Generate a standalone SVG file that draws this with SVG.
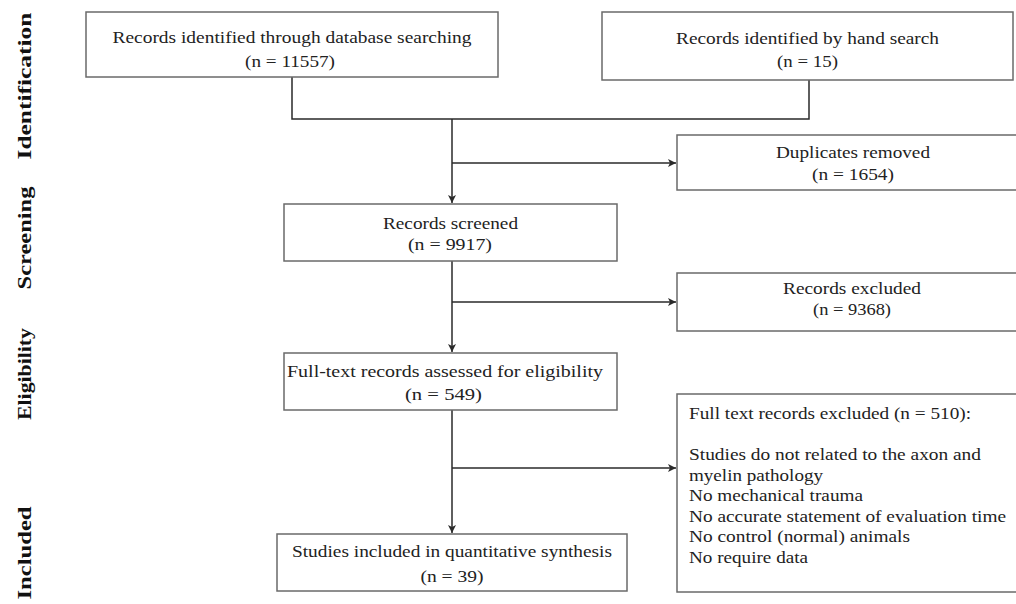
<svg xmlns="http://www.w3.org/2000/svg" width="1016" height="604" viewBox="0 0 1016 604">
<style>
.box{fill:#fff;stroke:#6a6a6a;stroke-width:1.5}
.t{font-family:"Liberation Serif","Times New Roman",serif;font-size:17px;fill:#222}
.c{text-anchor:middle}
.lab{font-family:"Liberation Serif","Times New Roman",serif;font-size:18px;font-weight:bold;fill:#111;text-anchor:middle}
.ln{fill:none;stroke:#2a2a2a;stroke-width:1.5}
</style>
<defs>
<marker id="ah" markerUnits="userSpaceOnUse" markerWidth="10" markerHeight="10" refX="8" refY="4" orient="auto">
<path d="M0,0 L8,4 L0,8 L2,4 z" fill="#2a2a2a"/>
</marker>
</defs>
<rect width="1016" height="604" fill="#fff"/>
<g id="phase-labels">
<text class="lab" transform="translate(31 86) rotate(-90)" textLength="147" lengthAdjust="spacingAndGlyphs">Identification</text>
<text class="lab" transform="translate(31 238) rotate(-90)" textLength="103" lengthAdjust="spacingAndGlyphs">Screening</text>
<text class="lab" transform="translate(31 374) rotate(-90)" textLength="92" lengthAdjust="spacingAndGlyphs">Eligibility</text>
<text class="lab" transform="translate(31 553) rotate(-90)" textLength="93" lengthAdjust="spacingAndGlyphs">Included</text>
</g>
<g id="connectors">
<polyline class="ln" points="292,77 292,119 809,119 809,80"/>
<line class="ln" x1="452" y1="119" x2="452" y2="203" marker-end="url(#ah)"/>
<line class="ln" x1="452" y1="163" x2="676" y2="163" marker-end="url(#ah)"/>
<line class="ln" x1="452" y1="261" x2="452" y2="352" marker-end="url(#ah)"/>
<line class="ln" x1="452" y1="302" x2="676" y2="302" marker-end="url(#ah)"/>
<line class="ln" x1="452" y1="410" x2="452" y2="533" marker-end="url(#ah)"/>
<line class="ln" x1="452" y1="468" x2="676" y2="468" marker-end="url(#ah)"/>
</g>
<g id="n-database">
<rect class="box" x="86" y="12" width="412" height="65"/>
<text class="t c" x="292" y="43" textLength="359" lengthAdjust="spacingAndGlyphs">Records identified through database searching</text>
<text class="t c" x="290" y="67" textLength="90" lengthAdjust="spacingAndGlyphs">(n = 11557)</text>
</g>
<g id="n-hand">
<rect class="box" x="602" y="12" width="411" height="68"/>
<text class="t c" x="807.5" y="44" textLength="263" lengthAdjust="spacingAndGlyphs">Records identified by hand search</text>
<text class="t c" x="807.5" y="67" textLength="61" lengthAdjust="spacingAndGlyphs">(n = 15)</text>
</g>
<g id="n-duplicates">
<rect class="box" x="677" y="135" width="352" height="55"/>
<text class="t c" x="853" y="158" textLength="154" lengthAdjust="spacingAndGlyphs">Duplicates removed</text>
<text class="t c" x="853" y="180" textLength="82" lengthAdjust="spacingAndGlyphs">(n = 1654)</text>
</g>
<g id="n-screened">
<rect class="box" x="284" y="204" width="333" height="57"/>
<text class="t c" x="450.5" y="229" textLength="135" lengthAdjust="spacingAndGlyphs">Records screened</text>
<text class="t c" x="450" y="250" textLength="84" lengthAdjust="spacingAndGlyphs">(n = 9917)</text>
</g>
<g id="n-excluded">
<rect class="box" x="677" y="273" width="352" height="58"/>
<text class="t c" x="852" y="294" textLength="138" lengthAdjust="spacingAndGlyphs">Records excluded</text>
<text class="t c" x="852" y="315" textLength="78" lengthAdjust="spacingAndGlyphs">(n = 9368)</text>
</g>
<g id="n-fulltext">
<rect class="box" x="284" y="353" width="333" height="57"/>
<text class="t c" x="445" y="377" textLength="316" lengthAdjust="spacingAndGlyphs">Full-text records assessed for eligibility</text>
<text class="t c" x="443.5" y="400" textLength="77" lengthAdjust="spacingAndGlyphs">(n = 549)</text>
</g>
<g id="n-ftexcluded">
<rect class="box" x="677" y="394" width="352" height="198"/>
<text class="t" x="689" y="419" textLength="282" lengthAdjust="spacingAndGlyphs">Full text records excluded (n = 510):</text>
<text class="t" x="689" y="460" textLength="292" lengthAdjust="spacingAndGlyphs">Studies do not related to the axon and</text>
<text class="t" x="689" y="480.5" textLength="134" lengthAdjust="spacingAndGlyphs">myelin pathology</text>
<text class="t" x="689" y="501" textLength="174" lengthAdjust="spacingAndGlyphs">No mechanical trauma</text>
<text class="t" x="689" y="521.5" textLength="317" lengthAdjust="spacingAndGlyphs">No accurate statement of evaluation time</text>
<text class="t" x="689" y="542" textLength="221" lengthAdjust="spacingAndGlyphs">No control (normal) animals</text>
<text class="t" x="689" y="562.5" textLength="119" lengthAdjust="spacingAndGlyphs">No require data</text>
</g>
<g id="n-included">
<rect class="box" x="277" y="534" width="350" height="57"/>
<text class="t c" x="452" y="557" textLength="320" lengthAdjust="spacingAndGlyphs">Studies included in quantitative synthesis</text>
<text class="t c" x="452" y="582" textLength="63" lengthAdjust="spacingAndGlyphs">(n = 39)</text>
</g>
</svg>
